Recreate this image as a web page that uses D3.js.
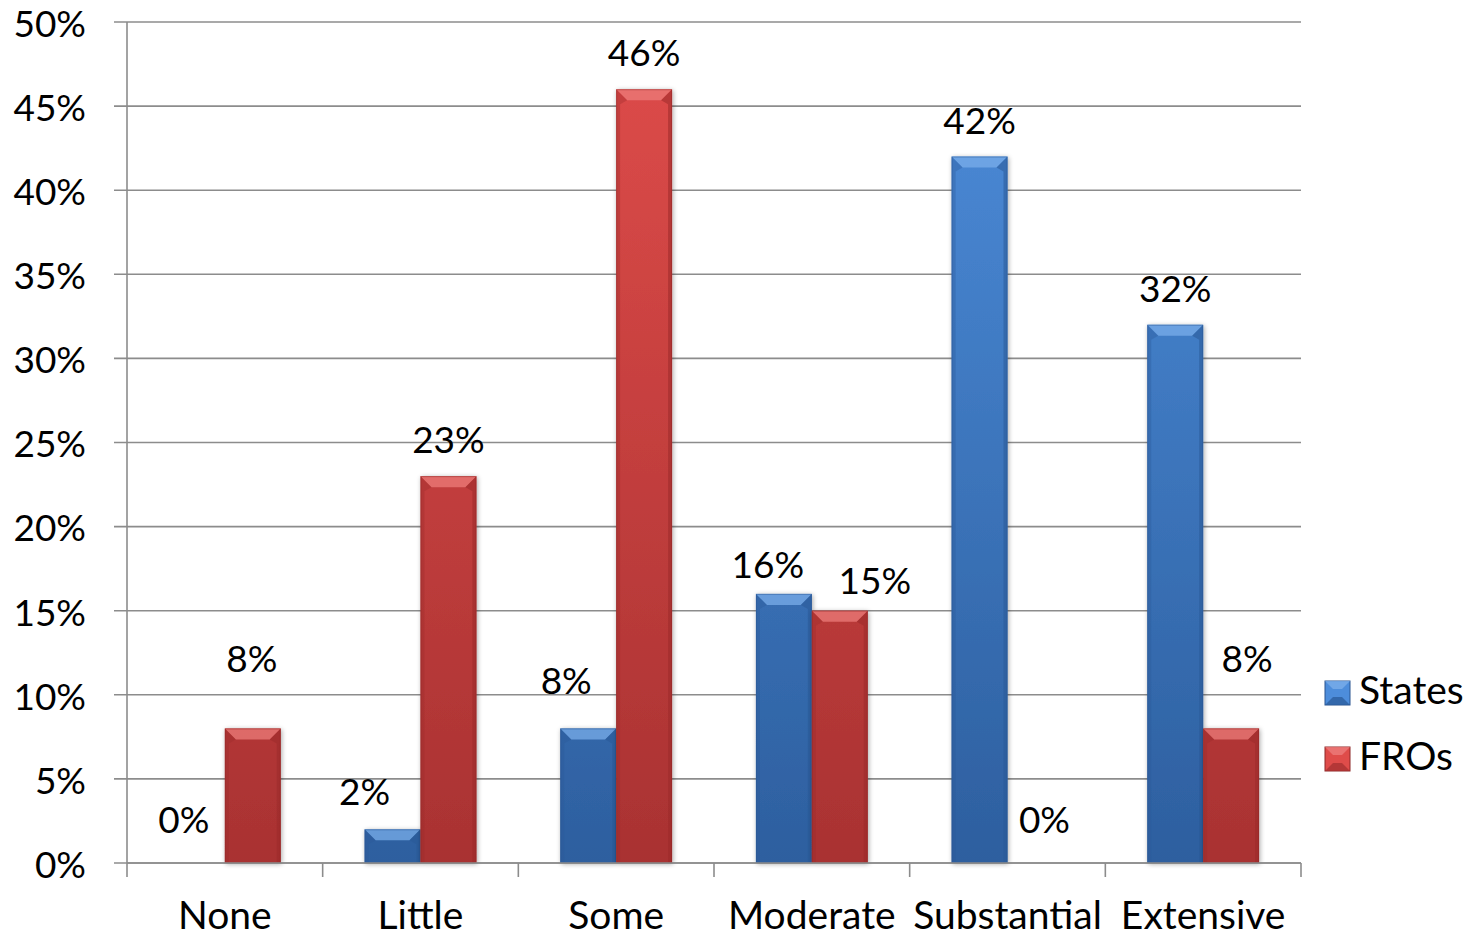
<!DOCTYPE html>
<html><head><meta charset="utf-8">
<script src="https://cdn.jsdelivr.net/npm/d3@7"></script>
<style>html,body{margin:0;padding:0;background:#fff;}svg{display:block;font-family:Lato,"Open Sans",sans-serif;}</style>
</head><body>
<svg id="c" width="1468" height="937"></svg>
<script>
const categories = ["None","Little","Some","Moderate","Substantial","Extensive"];
const seriesNames = ["States","FROs"];
const statesValues = [0, 2, 8, 16, 42, 32];
const frosValues = [8, 23, 46, 15, 0, 8];
const yTicks = [0,5,10,15,20,25,30,35,40,45,50];
// label nudges (px) relative to default outside-end placement
const labelNudgeStates = [[-13,-7],[-28,-1],[-22,-11],[-16,7],[0,0],[0,0]];
const labelNudgeFROs = [[-1,-33],[0,0],[0,0],[35,6],[9,-7],[16,-33]];

const svg = d3.select("#c");
const L = 127, R = 1301, T = 22, B = 863;
const FS = 37, FSW = 39;
const x0 = d3.scaleBand().domain(categories).range([L,R]).paddingInner(0).paddingOuter(0);
const catW = x0.bandwidth();
const barW = catW/3.5;
const x1 = d3.scaleBand().domain(seriesNames).range([(catW-2*barW)/2,(catW+2*barW)/2]);
const y = d3.scaleLinear().domain([0,50]).range([B,T]);

const defs = svg.append("defs");
const cols = {States:{top:"#4d8ddb",bot:"#2d5f9f",bevel:"#7aaeea",side:"#2a5a98",edge:"#2b5590"},
              FROs:{top:"#df4c4a",bot:"#a93232",bevel:"#ec7c7a",side:"#9b2a2a",edge:"#8e2828"}};
Object.entries(cols).forEach(([k,c])=>{
  const g = defs.append("linearGradient").attr("id","g"+k).attr("x1",0).attr("x2",0).attr("gradientUnits","userSpaceOnUse")
    .attr("y1",T).attr("y2",B);
  g.append("stop").attr("offset","0%").attr("stop-color",c.top);
  g.append("stop").attr("offset","100%").attr("stop-color",c.bot);
});
const f = defs.append("filter").attr("id","sh").attr("x","-20%").attr("y","-20%").attr("width","140%").attr("height","140%");
f.append("feGaussianBlur").attr("in","SourceAlpha").attr("stdDeviation",2.5).attr("result","b");
f.append("feOffset").attr("in","b").attr("dx",1).attr("dy",1).attr("result","o");
f.append("feComponentTransfer").attr("in","o").attr("result","o2").append("feFuncA").attr("type","linear").attr("slope",0.35);
const m = f.append("feMerge"); m.append("feMergeNode").attr("in","o2"); m.append("feMergeNode").attr("in","SourceGraphic");

// gridlines
svg.append("g").selectAll("line").data(yTicks).join("line")
  .attr("x1",L-13).attr("x2",R).attr("y1",d=>y(d)).attr("y2",d=>y(d))
  .attr("stroke","#8c8c8c").attr("stroke-width",1.6);

// y axis line
svg.append("line").attr("x1",L).attr("x2",L).attr("y1",T).attr("y2",B).attr("stroke","#8c8c8c").attr("stroke-width",1.6);
// y labels
svg.append("g").selectAll("text").data(yTicks).join("text")
  .attr("x",86).attr("y",d=>y(d)).attr("dy","0.4em").attr("text-anchor","end")
  .attr("font-size",FS).attr("fill","#000").text(d=>d+"%");

// bars
const data = [];
categories.forEach((c,i)=>{
  data.push({cat:c,s:"States",v:statesValues[i],n:labelNudgeStates[i]});
  data.push({cat:c,s:"FROs",v:frosValues[i],n:labelNudgeFROs[i]});
});
const bars = svg.append("g");
data.filter(d=>d.v>0).forEach(d=>{
  const bx = x0(d.cat)+x1(d.s), by = y(d.v), bh = B-by, c = cols[d.s];
  const g = bars.append("g");
  g.append("rect").attr("x",bx).attr("y",by).attr("width",barW).attr("height",bh)
    .attr("fill","url(#g"+d.s+")").attr("filter","url(#sh)");
  const bv = Math.min(11, bh/2), sv = 4;
  g.append("path").attr("d",`M${bx},${by}L${bx+barW},${by}L${bx+barW-bv},${by+bv}L${bx+bv},${by+bv}Z`)
    .attr("fill",c.bevel).attr("opacity",0.75);
  g.append("path").attr("d",`M${bx},${by}L${bx+bv},${by+bv}L${bx+sv},${by+bv+4}L${bx+sv},${B}L${bx},${B}Z`)
    .attr("fill",c.side).attr("opacity",0.35);
  g.append("path").attr("d",`M${bx+barW},${by}L${bx+barW-bv},${by+bv}L${bx+barW-sv},${by+bv+4}L${bx+barW-sv},${B}L${bx+barW},${B}Z`)
    .attr("fill",c.side).attr("opacity",0.55);
  g.append("rect").attr("x",bx+0.5).attr("y",by+0.5).attr("width",barW-1).attr("height",bh-1)
    .attr("fill","none").attr("stroke",c.edge).attr("stroke-opacity",0.45).attr("stroke-width",1);
});

// x axis line and ticks
svg.append("line").attr("x1",L).attr("x2",R).attr("y1",B).attr("y2",B).attr("stroke","#8c8c8c").attr("stroke-width",1.6);
const bounds = categories.map(c=>x0(c)).concat([R]);
svg.append("g").selectAll("line").data(bounds).join("line")
  .attr("x1",d=>d).attr("x2",d=>d).attr("y1",B).attr("y2",B+14).attr("stroke","#8c8c8c").attr("stroke-width",1.6);
svg.append("g").selectAll("text").data(categories).join("text")
  .attr("x",d=>x0(d)+catW/2).attr("y",929).attr("text-anchor","middle")
  .attr("font-size",FSW).attr("fill","#000").text(d=>d);

// data labels
svg.append("g").selectAll("text").data(data).join("text")
  .attr("x",d=>x0(d.cat)+x1(d.s)+barW/2+d.n[0])
  .attr("y",d=>y(d.v)-23+d.n[1])
  .attr("text-anchor","middle").attr("font-size",FS).attr("fill","#000")
  .text(d=>d.v+"%");

// legend
const lg = svg.append("g");
seriesNames.forEach((s,i)=>{
  const ly = 681 + i*66, c = cols[s];
  lg.append("rect").attr("x",1325).attr("y",ly).attr("width",25).attr("height",24)
    .attr("fill",c.top).attr("stroke",c.edge).attr("stroke-width",1);
  lg.append("path").attr("d",`M1325,${ly}L1350,${ly}L1342,${ly+8}L1333,${ly+8}Z`).attr("fill",c.bevel).attr("opacity",0.8);
  lg.append("path").attr("d",`M1325,${ly+24}L1350,${ly+24}L1342,${ly+16}L1333,${ly+16}Z`).attr("fill",c.bot).attr("opacity",0.8);
  lg.append("text").attr("x",1359).attr("y",ly+23).attr("font-size",FSW).attr("fill","#000").text(s);
});
</script>
</body></html>
